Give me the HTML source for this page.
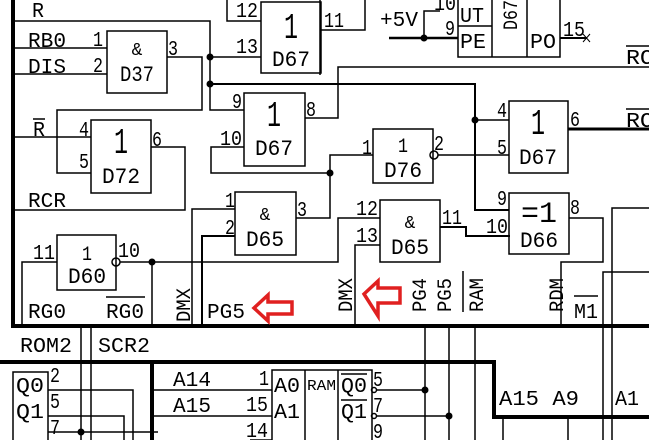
<!DOCTYPE html>
<html><head><meta charset="utf-8"><style>body{margin:0;background:#fff}svg{display:block}</style></head><body>
<svg width="649" height="440" viewBox="0 0 649 440" xmlns="http://www.w3.org/2000/svg" font-family="Liberation Sans, sans-serif" fill="none" stroke="#000" stroke-width="1.5">
<g stroke-width="4">
<line x1="13" y1="0" x2="13" y2="328"/>
<line x1="11" y1="326" x2="649" y2="326"/>
<polyline points="0,362 494,362 494,417 649,417"/>
<line x1="152" y1="362" x2="152" y2="440"/>
</g>
<g>
<rect x="107" y="31" width="60" height="62"/>
<rect x="261" y="2" width="60" height="71"/>
<rect x="244" y="93" width="61" height="73"/>
<rect x="91" y="120" width="60" height="73"/>
<rect x="373" y="129" width="60" height="54"/>
<rect x="509" y="101" width="59" height="72"/>
<rect x="235" y="192" width="61" height="63"/>
<rect x="380" y="200" width="60" height="62"/>
<rect x="509" y="193" width="60" height="61"/>
<rect x="57" y="235" width="59" height="55"/>
<rect x="458" y="-2" width="102" height="59"/>
<line x1="492" y1="0" x2="492" y2="57"/><line x1="527" y1="0" x2="527" y2="57"/><line x1="458" y1="26" x2="492" y2="26"/>
<rect x="13" y="372" width="35" height="70"/>
<rect x="272" y="370" width="100" height="72"/>
<line x1="305" y1="370" x2="305" y2="440"/><line x1="338" y1="370" x2="338" y2="440"/>
<circle cx="434" cy="155" r="4"/><circle cx="116" cy="262" r="4"/>
<circle cx="374" cy="390" r="2.5"/><circle cx="374" cy="416" r="2.5"/>
</g>
<g>
<polyline points="13,21 210,21 210,110 244,110"/>
<line x1="210" y1="57" x2="261" y2="57"/>
<polyline points="210,84 475,84 475,210 509,210" stroke-width="2"/>
<line x1="475" y1="120" x2="509" y2="120"/>
<line x1="13" y1="48" x2="107" y2="48"/>
<line x1="13" y1="74" x2="107" y2="74"/>
<polyline points="167,57 202,57 202,110 57,110 57,173 91,173"/>
<line x1="13" y1="137" x2="91" y2="137"/>
<polyline points="151,147 185,147 185,210 13,210"/>
<polyline points="305,118 338,118 338,67 649,67"/>
<polyline points="244,147 211,147 211,173 330,173"/>
<polyline points="296,218 330,218 330,155 373,155"/>
<line x1="438" y1="155" x2="509" y2="155"/>
<line x1="568" y1="129" x2="649" y2="129" stroke-width="3"/>
<polyline points="235,209 192,209 192,326"/>
<polyline points="235,236 202,236 202,326" stroke-width="2"/>
<polyline points="22,326 22,262 57,262"/>
<polyline points="120,262 338,262 338,218 380,218"/>
<line x1="152" y1="262" x2="152" y2="326"/>
<polyline points="380,245 355,245 355,326"/>
<polyline points="440,227 466,227 466,236 510,236" stroke-width="2"/>
<polyline points="569,218 603,218 603,262 561,262 561,326"/>
<polyline points="612,440 612,208 649,208"/>
<polyline points="603,326 603,272 649,272"/>
<line x1="603" y1="326" x2="603" y2="440"/>
<polyline points="227,0 227,21 261,21"/>
<polyline points="321,30 365,30 365,0"/>
<line x1="320" y1="0" x2="320" y2="75"/>
<line x1="389" y1="38" x2="458" y2="38" stroke-width="2.5"/>
<polyline points="424,38 424,11 440,11"/>
<line x1="560" y1="38" x2="587" y2="38" stroke-width="2"/>
<path d="M583,34 l7,8 M590,34 l-7,8" stroke-width="1"/>
<line x1="81" y1="326" x2="81" y2="440"/><line x1="91" y1="326" x2="91" y2="440"/>
<line x1="425" y1="326" x2="425" y2="440"/><line x1="449" y1="326" x2="449" y2="440"/><line x1="475" y1="326" x2="475" y2="440"/>
<line x1="503" y1="417" x2="503" y2="440"/><line x1="568" y1="417" x2="568" y2="440"/>
<polyline points="48,390 133,390 133,440"/><polyline points="48,416 124,416 124,440"/>
<line x1="48" y1="432" x2="158" y2="432"/>
<line x1="152" y1="390" x2="272" y2="390"/><line x1="152" y1="416" x2="272" y2="416"/><line x1="250" y1="440" x2="272" y2="440"/>
<line x1="377" y1="390" x2="425" y2="390"/><line x1="377" y1="416" x2="449" y2="416"/>
</g>
<g fill="#000" stroke="none">
<circle cx="210" cy="57" r="3.5"/><circle cx="210" cy="84" r="3.5"/><circle cx="475" cy="120" r="3.5"/>
<circle cx="330" cy="173" r="3.5"/><circle cx="152" cy="262" r="3.5"/><circle cx="424" cy="38" r="3.5"/>
<circle cx="425" cy="390" r="3.5"/><circle cx="449" cy="416" r="3.5"/><circle cx="81" cy="432" r="3.5"/>
</g>
<g stroke="#e02020" stroke-width="3.5" stroke-linejoin="miter">
<polygon points="254,308 268,295 268,302 292,302 292,314 268,314 268,321"/>
<polygon points="364,294 378,281 378,288 400,288 400,303 378,303 378,316"/>
</g>
<g fill="#000" stroke="none" font-size="21" font-family="Liberation Mono, monospace" lengthAdjust="spacingAndGlyphs">
<text x="32" y="17" textLength="12" lengthAdjust="spacingAndGlyphs">R</text>
<text x="28" y="47" textLength="38" lengthAdjust="spacingAndGlyphs">RB0</text><text x="93" y="46" textLength="10" lengthAdjust="spacingAndGlyphs">1</text><text x="168" y="55" textLength="10" lengthAdjust="spacingAndGlyphs">3</text>
<text x="28" y="73" textLength="38" lengthAdjust="spacingAndGlyphs">DIS</text><text x="93" y="72" textLength="10" lengthAdjust="spacingAndGlyphs">2</text>
<text x="33" y="136" textLength="12" lengthAdjust="spacingAndGlyphs">R</text><line x1="33" y1="119" x2="45" y2="119" stroke="#000"/>
<text x="79" y="136" textLength="10" lengthAdjust="spacingAndGlyphs">4</text><text x="79" y="168" textLength="10" lengthAdjust="spacingAndGlyphs">5</text><text x="152" y="146" textLength="10" lengthAdjust="spacingAndGlyphs">6</text>
<text x="28" y="207" textLength="38" lengthAdjust="spacingAndGlyphs">RCR</text>
<text x="236" y="17" textLength="22" lengthAdjust="spacingAndGlyphs">12</text><text x="236" y="53" textLength="22" lengthAdjust="spacingAndGlyphs">13</text><text x="324" y="27" textLength="20" lengthAdjust="spacingAndGlyphs">11</text>
<text x="232" y="108" textLength="10" lengthAdjust="spacingAndGlyphs">9</text><text x="220" y="145" textLength="22" lengthAdjust="spacingAndGlyphs">10</text><text x="306" y="116" textLength="10" lengthAdjust="spacingAndGlyphs">8</text>
<text x="362" y="154" textLength="10" lengthAdjust="spacingAndGlyphs">1</text><text x="434" y="150" textLength="10" lengthAdjust="spacingAndGlyphs">2</text>
<text x="497" y="117" textLength="10" lengthAdjust="spacingAndGlyphs">4</text><text x="497" y="154" textLength="10" lengthAdjust="spacingAndGlyphs">5</text><text x="570" y="126" textLength="10" lengthAdjust="spacingAndGlyphs">6</text>
<text x="225" y="207" textLength="10" lengthAdjust="spacingAndGlyphs">1</text><text x="225" y="234" textLength="10" lengthAdjust="spacingAndGlyphs">2</text><text x="297" y="216" textLength="10" lengthAdjust="spacingAndGlyphs">3</text>
<text x="356" y="215" textLength="22" lengthAdjust="spacingAndGlyphs">12</text><text x="356" y="242" textLength="22" lengthAdjust="spacingAndGlyphs">13</text><text x="442" y="224" textLength="20" lengthAdjust="spacingAndGlyphs">11</text>
<text x="497" y="205" textLength="10" lengthAdjust="spacingAndGlyphs">9</text><text x="486" y="233" textLength="22" lengthAdjust="spacingAndGlyphs">10</text><text x="570" y="214" textLength="10" lengthAdjust="spacingAndGlyphs">8</text>
<text x="33" y="259" textLength="22" lengthAdjust="spacingAndGlyphs">11</text><text x="118" y="257" textLength="22" lengthAdjust="spacingAndGlyphs">10</text>
<text x="28" y="318" textLength="38" lengthAdjust="spacingAndGlyphs">RG0</text><text x="106" y="318" textLength="38" lengthAdjust="spacingAndGlyphs">RG0</text><line x1="106" y1="297" x2="145" y2="297" stroke="#000"/>
<text x="207" y="318" textLength="38" lengthAdjust="spacingAndGlyphs">PG5</text>
<text x="574" y="318" textLength="24" lengthAdjust="spacingAndGlyphs">M1</text><line x1="574" y1="296" x2="598" y2="296" stroke="#000"/>
<text x="380" y="26" textLength="38" lengthAdjust="spacingAndGlyphs">+5V</text>
<text x="434" y="10" textLength="22" lengthAdjust="spacingAndGlyphs">10</text><text x="445" y="35" textLength="10" lengthAdjust="spacingAndGlyphs">9</text>
<text x="460" y="22" textLength="24" lengthAdjust="spacingAndGlyphs">UT</text><text x="460" y="48" textLength="26" lengthAdjust="spacingAndGlyphs">PE</text><text x="530" y="48" textLength="26" lengthAdjust="spacingAndGlyphs">PO</text>
<text x="563" y="36" textLength="22" lengthAdjust="spacingAndGlyphs">15</text>
<text x="626" y="64" textLength="28" lengthAdjust="spacingAndGlyphs">RO</text><line x1="626" y1="46" x2="649" y2="46" stroke="#000"/>
<text x="626" y="127" textLength="28" lengthAdjust="spacingAndGlyphs">RO</text><line x1="626" y1="109" x2="649" y2="109" stroke="#000"/>
<text x="20" y="352" textLength="52" lengthAdjust="spacingAndGlyphs">ROM2</text><text x="98" y="352" textLength="52" lengthAdjust="spacingAndGlyphs">SCR2</text>
<text x="16" y="392" textLength="28" lengthAdjust="spacingAndGlyphs">Q0</text><text x="16" y="418" textLength="28" lengthAdjust="spacingAndGlyphs">Q1</text>
<text x="50" y="382" textLength="10" lengthAdjust="spacingAndGlyphs">2</text><text x="50" y="408" textLength="10" lengthAdjust="spacingAndGlyphs">5</text><text x="50" y="434" textLength="10" lengthAdjust="spacingAndGlyphs">7</text>
<text x="173" y="386" textLength="38" lengthAdjust="spacingAndGlyphs">A14</text><text x="173" y="412" textLength="38" lengthAdjust="spacingAndGlyphs">A15</text>
<text x="259" y="385" textLength="10" lengthAdjust="spacingAndGlyphs">1</text><text x="246" y="411" textLength="22" lengthAdjust="spacingAndGlyphs">15</text><text x="246" y="437" textLength="22" lengthAdjust="spacingAndGlyphs">14</text>
<text x="274" y="392" textLength="26" lengthAdjust="spacingAndGlyphs">A0</text><text x="274" y="418" textLength="26" lengthAdjust="spacingAndGlyphs">A1</text>
<text x="307" y="390" font-size="15" textLength="29" lengthAdjust="spacingAndGlyphs">RAM</text>
<text x="341" y="392" textLength="26" lengthAdjust="spacingAndGlyphs">Q0</text><line x1="341" y1="374" x2="367" y2="374" stroke="#000"/>
<text x="341" y="418" textLength="26" lengthAdjust="spacingAndGlyphs">Q1</text><line x1="341" y1="400" x2="367" y2="400" stroke="#000"/>
<text x="373" y="386" textLength="10" lengthAdjust="spacingAndGlyphs">5</text><text x="373" y="412" textLength="10" lengthAdjust="spacingAndGlyphs">7</text><text x="373" y="438" textLength="10" lengthAdjust="spacingAndGlyphs">9</text>
<text x="499" y="405" textLength="80" lengthAdjust="spacingAndGlyphs">A15 A9</text><text x="615" y="405" textLength="24" lengthAdjust="spacingAndGlyphs">A1</text>
</g>
<g fill="#000" stroke="none" font-family="Liberation Mono, monospace" text-anchor="middle">
<text x="137" y="55" font-size="18">&amp;</text><text x="137" y="81" font-size="22" textLength="34" lengthAdjust="spacingAndGlyphs">D37</text>
<text x="291" y="38" font-size="36" textLength="14" lengthAdjust="spacingAndGlyphs">1</text><text x="291" y="66" font-size="22" textLength="38" lengthAdjust="spacingAndGlyphs">D67</text>
<text x="274" y="126" font-size="36" textLength="14" lengthAdjust="spacingAndGlyphs">1</text><text x="274" y="155" font-size="22" textLength="38" lengthAdjust="spacingAndGlyphs">D67</text>
<text x="121" y="153" font-size="36" textLength="14" lengthAdjust="spacingAndGlyphs">1</text><text x="121" y="183" font-size="22" textLength="38" lengthAdjust="spacingAndGlyphs">D72</text>
<text x="403" y="152" font-size="20" textLength="10" lengthAdjust="spacingAndGlyphs">1</text><text x="403" y="177" font-size="22" textLength="38" lengthAdjust="spacingAndGlyphs">D76</text>
<text x="538" y="134" font-size="36" textLength="14" lengthAdjust="spacingAndGlyphs">1</text><text x="538" y="164" font-size="22" textLength="38" lengthAdjust="spacingAndGlyphs">D67</text>
<text x="265" y="220" font-size="18">&amp;</text><text x="265" y="246" font-size="22" textLength="38" lengthAdjust="spacingAndGlyphs">D65</text>
<text x="410" y="228" font-size="18">&amp;</text><text x="410" y="254" font-size="22" textLength="38" lengthAdjust="spacingAndGlyphs">D65</text>
<text x="539" y="222" font-size="30" textLength="36" lengthAdjust="spacingAndGlyphs">=1</text><text x="539" y="247" font-size="22" textLength="38" lengthAdjust="spacingAndGlyphs">D66</text>
<text x="87" y="260" font-size="20" textLength="10" lengthAdjust="spacingAndGlyphs">1</text><text x="87" y="283" font-size="22" textLength="38" lengthAdjust="spacingAndGlyphs">D60</text>
</g>
<g fill="#000" stroke="none" font-size="20" font-family="Liberation Mono, monospace">
<text transform="translate(190,322) rotate(-90)" textLength="34" lengthAdjust="spacingAndGlyphs">DMX</text>
<text transform="translate(352,312) rotate(-90)" textLength="34" lengthAdjust="spacingAndGlyphs">DMX</text>
<text transform="translate(426,312) rotate(-90)" textLength="34" lengthAdjust="spacingAndGlyphs">PG4</text>
<text transform="translate(451,312) rotate(-90)" textLength="34" lengthAdjust="spacingAndGlyphs">PG5</text>
<text transform="translate(483,312) rotate(-90)" textLength="34" lengthAdjust="spacingAndGlyphs">RAM</text>
<line x1="463" y1="271" x2="463" y2="312" stroke="#000"/>
<text transform="translate(563,312) rotate(-90)" textLength="34" lengthAdjust="spacingAndGlyphs">RDM</text>
<text transform="translate(517,30) rotate(-90)" textLength="30" lengthAdjust="spacingAndGlyphs">D67</text>
</g>
</svg>
</body></html>
